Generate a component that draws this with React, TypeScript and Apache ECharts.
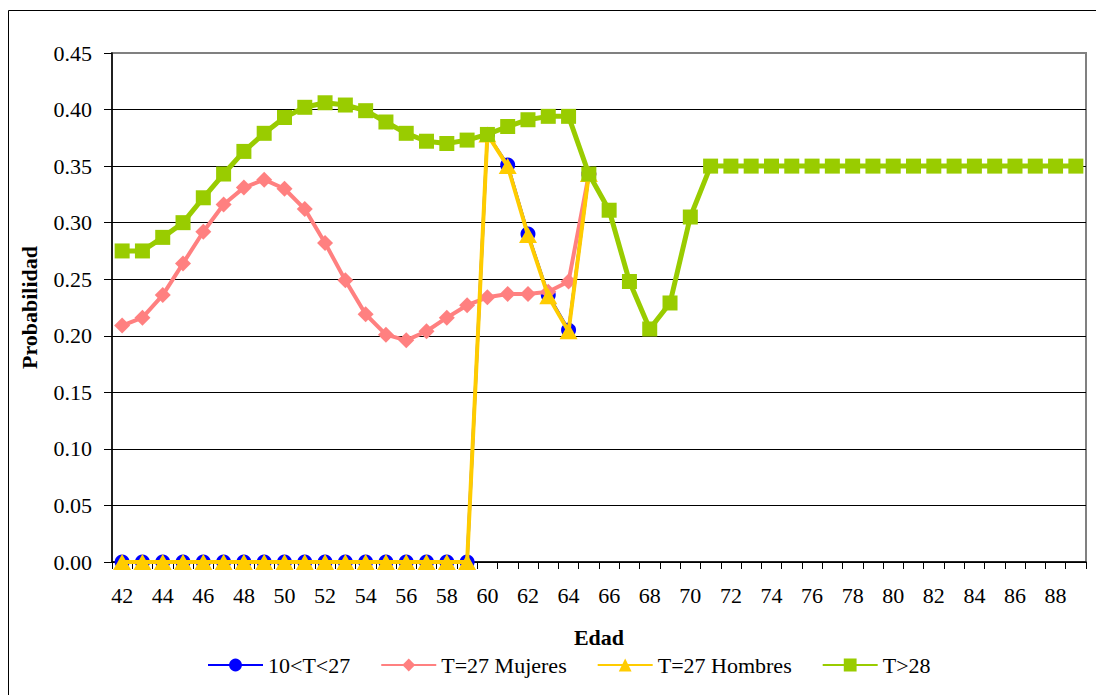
import React, { useEffect, useRef } from "react";
import * as echarts from "echarts";

const ages = [
  "42", "43", "44", "45", "46", "47", "48", "49", "50", "51", "52", "53",
  "54", "55", "56", "57", "58", "59", "60", "61", "62", "63", "64", "65",
  "66", "67", "68", "69", "70", "71", "72", "73", "74", "75", "76", "77",
  "78", "79", "80", "81", "82", "83", "84", "85", "86", "87", "88", "89",
];

const seriesNames = ["10<T<27", "T=27 Mujeres", "T=27 Hombres", "T>28"];

const blueValues: (number | null)[] = [
  0, 0, 0, 0, 0, 0, 0, 0, 0, 0, 0, 0,
  0, 0, 0, 0, 0, 0, 0.378, 0.351, 0.29, 0.236, 0.205, 0.343,
  null, null, null, null, null, null, null, null, null, null, null, null,
  null, null, null, null, null, null, null, null, null, null, null, null,
];

const pinkValues: (number | null)[] = [
  0.209, 0.216, 0.236, 0.264, 0.292, 0.316, 0.331, 0.338, 0.33, 0.312, 0.282, 0.249,
  0.219, 0.201, 0.196, 0.204, 0.216, 0.227, 0.234, 0.237, 0.237, 0.239, 0.248, 0.343,
  null, null, null, null, null, null, null, null, null, null, null, null,
  null, null, null, null, null, null, null, null, null, null, null, null,
];

const yellowValues: (number | null)[] = [
  0, 0, 0, 0, 0, 0, 0, 0, 0, 0, 0, 0,
  0, 0, 0, 0, 0, 0, 0.378, 0.35, 0.289, 0.235, 0.204, 0.343,
  null, null, null, null, null, null, null, null, null, null, null, null,
  null, null, null, null, null, null, null, null, null, null, null, null,
];

const greenValues: (number | null)[] = [
  0.275, 0.275, 0.287, 0.3, 0.322, 0.343, 0.363, 0.379, 0.393, 0.402, 0.406, 0.404,
  0.399, 0.389, 0.379, 0.372, 0.37, 0.373, 0.378, 0.385, 0.391, 0.394, 0.394, 0.343,
  0.311, 0.248, 0.206, 0.229, 0.305, 0.35, 0.35, 0.35, 0.35, 0.35, 0.35, 0.35,
  0.35, 0.35, 0.35, 0.35, 0.35, 0.35, 0.35, 0.35, 0.35, 0.35, 0.35, 0.35,
];

const FONT = "Liberation Serif";

export default function App() {
  const ref = useRef<HTMLDivElement>(null);

  useEffect(() => {
    if (!ref.current) return;
    const chart = echarts.init(ref.current, null, { renderer: "svg" });
    const gridColors = ["#000", "#000", "#000", "#000", "#000", "#000", "#000", "#000", "#000", "#808080"];
    chart.setOption({
      animation: false,
      backgroundColor: "#ffffff",
      textStyle: { fontFamily: FONT, color: "#000" },
      grid: {
        left: 112,
        top: 53,
        right: 10,
        bottom: 133,
        show: true,
        borderColor: "#808080",
        borderWidth: 2,
        backgroundColor: "transparent",
      },
      graphic: [
        {
          type: "rect",
          shape: { x: 8.5, y: 10.5, width: 1200, height: 800 },
          style: { fill: "none", stroke: "#000", lineWidth: 1 },
          silent: true,
          z: 0,
        },
      ],
      legend: {
        data: seriesNames,
        left: 202,
        top: 649,
        itemWidth: 55,
        itemHeight: 16,
        itemGap: 30,
        textStyle: { fontFamily: FONT, fontSize: 22, color: "#000" },
      },
      xAxis: {
        type: "category",
        data: ages,
        boundaryGap: true,
        name: "Edad",
        nameLocation: "middle",
        nameGap: 64,
        nameTextStyle: { fontFamily: FONT, fontSize: 22, fontWeight: "bold", color: "#000" },
        axisLine: { lineStyle: { color: "#000", width: 1.5 } },
        axisTick: { show: true, interval: 0, length: 7, alignWithLabel: false, lineStyle: { color: "#000" } },
        axisLabel: { interval: 1, margin: 22, fontFamily: FONT, fontSize: 22, color: "#000" },
        splitLine: { show: false },
      },
      yAxis: {
        type: "value",
        min: 0,
        max: 0.45,
        interval: 0.05,
        name: "Probabilidad",
        nameLocation: "middle",
        nameGap: 72,
        nameRotate: 90,
        nameTextStyle: { fontFamily: FONT, fontSize: 22, fontWeight: "bold", color: "#000" },
        axisLine: { show: true, lineStyle: { color: "#000", width: 1.5 } },
        axisTick: { show: true, length: 8, lineStyle: { color: "#000" } },
        axisLabel: {
          margin: 20,
          fontFamily: FONT,
          fontSize: 22,
          color: "#000",
          formatter: (v: number) => v.toFixed(2),
        },
        splitLine: { show: true, lineStyle: { color: gridColors, width: 1 } },
      },
      series: [
        {
          name: seriesNames[0],
          type: "line",
          data: blueValues,
          color: "#0000FF",
          symbol: "circle",
          symbolSize: 15,
          showAllSymbol: true,
          clip: false,
          lineStyle: { width: 3, color: "#0000FF" },
          itemStyle: { color: "#0000FF" },
          z: 2,
        },
        {
          name: seriesNames[1],
          type: "line",
          data: pinkValues,
          color: "#FF8080",
          symbol: "diamond",
          symbolSize: 16,
          showAllSymbol: true,
          clip: false,
          lineStyle: { width: 4, color: "#FF8080" },
          itemStyle: { color: "#FF8080" },
          z: 3,
        },
        {
          name: seriesNames[2],
          type: "line",
          data: yellowValues,
          color: "#FFCC00",
          symbol: "triangle",
          symbolSize: [18, 16],
          showAllSymbol: true,
          clip: false,
          lineStyle: { width: 4, color: "#FFCC00" },
          itemStyle: { color: "#FFCC00" },
          z: 4,
        },
        {
          name: seriesNames[3],
          type: "line",
          data: greenValues,
          color: "#99CC00",
          symbol: "rect",
          symbolSize: 15,
          showAllSymbol: true,
          clip: false,
          lineStyle: { width: 5, color: "#99CC00" },
          itemStyle: { color: "#99CC00" },
          z: 5,
        },
      ],
    });
    return () => chart.dispose();
  }, []);

  return (
    <div
      ref={ref}
      style={{ position: "fixed", left: 0, top: 0, width: 1096, height: 695, background: "#fff" }}
    />
  );
}
